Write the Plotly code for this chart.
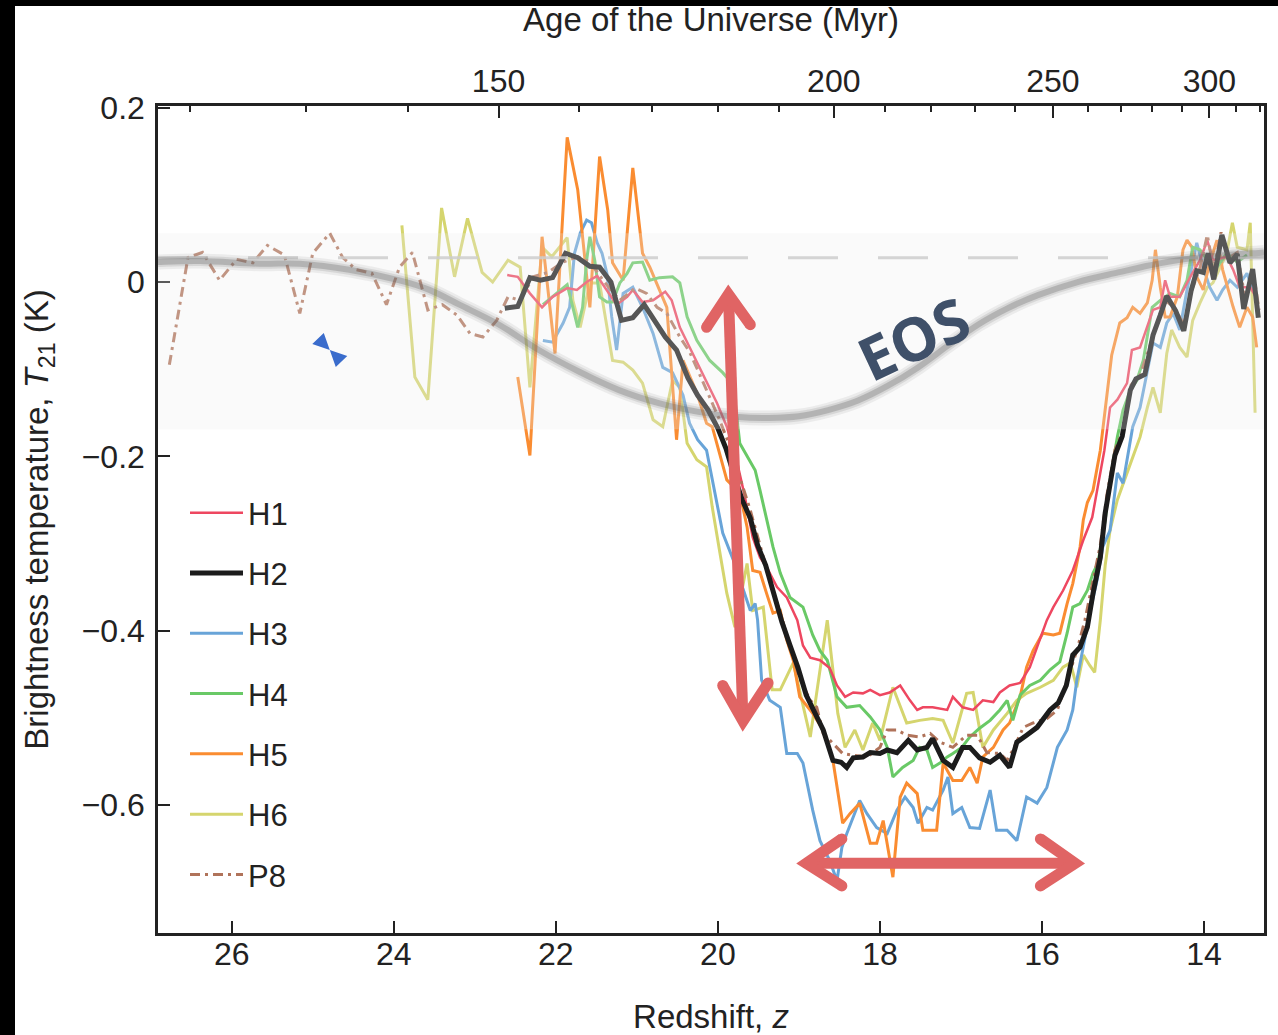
import plotly.graph_objects as go

# ---------------------------------------------------------------------------
# Brightness-temperature histories (redshift z, T21 in K) for each run
# ---------------------------------------------------------------------------
h1_points = [
    (22.60, 0.008), (22.47, 0.006), (22.32, -0.013), (22.17, -0.029), (22.04, -0.017),
    (21.86, -0.007), (21.74, -0.009), (21.62, 0.000), (21.49, 0.007), (21.37, -0.009),
    (21.25, -0.026), (21.12, -0.017), (21.05, -0.009), (20.93, -0.023), (20.80, -0.021),
    (20.65, -0.011), (20.57, -0.021), (20.47, -0.052), (20.31, -0.082), (20.14, -0.113),
    (20.01, -0.139), (19.89, -0.166), (19.77, -0.204), (19.67, -0.245), (19.57, -0.293),
    (19.48, -0.316), (19.40, -0.327), (19.27, -0.350), (19.15, -0.362), (19.02, -0.388),
    (18.95, -0.417), (18.86, -0.431), (18.74, -0.434), (18.62, -0.443), (18.53, -0.463),
    (18.43, -0.476), (18.33, -0.471), (18.21, -0.472), (18.12, -0.468), (18.00, -0.474),
    (17.88, -0.471), (17.75, -0.463), (17.63, -0.480), (17.54, -0.491), (17.47, -0.488),
    (17.35, -0.488), (17.17, -0.491), (17.10, -0.476), (16.98, -0.488), (16.85, -0.491),
    (16.73, -0.480), (16.60, -0.482), (16.52, -0.471), (16.40, -0.463), (16.27, -0.460),
    (16.15, -0.442), (16.02, -0.408), (15.94, -0.388), (15.86, -0.373), (15.74, -0.354),
    (15.62, -0.331), (15.49, -0.296), (15.38, -0.270), (15.31, -0.235), (15.23, -0.193),
    (15.16, -0.144), (15.07, -0.135), (14.95, -0.116), (14.89, -0.078), (14.79, -0.075),
    (14.70, -0.052), (14.63, -0.032), (14.54, -0.029), (14.48, 0.002), (14.42, -0.017),
    (14.30, -0.017), (14.17, 0.006), (14.05, 0.025), (13.96, 0.048), (13.89, 0.025),
    (13.72, 0.029), (13.64, 0.014), (13.56, -0.006), (13.43, -0.006), (13.36, -0.017),
]

h2_points = [
    (22.63, -0.030), (22.47, -0.028), (22.32, 0.005), (22.19, 0.002), (22.04, 0.005),
    (21.88, 0.033), (21.73, 0.028), (21.58, 0.018), (21.46, 0.017), (21.32, 0.000),
    (21.19, -0.044), (21.05, -0.041), (20.91, -0.026), (20.79, -0.044), (20.65, -0.063),
    (20.51, -0.078), (20.37, -0.110), (20.25, -0.130), (20.12, -0.147), (20.00, -0.168),
    (19.90, -0.191), (19.80, -0.222), (19.70, -0.250), (19.60, -0.271), (19.51, -0.302),
    (19.41, -0.325), (19.31, -0.359), (19.21, -0.390), (19.11, -0.417), (19.01, -0.443),
    (18.91, -0.474), (18.81, -0.494), (18.70, -0.514), (18.58, -0.549), (18.48, -0.551),
    (18.41, -0.557), (18.33, -0.546), (18.21, -0.545), (18.12, -0.540), (18.00, -0.541),
    (17.91, -0.537), (17.79, -0.540), (17.65, -0.526), (17.54, -0.537), (17.42, -0.534),
    (17.35, -0.524), (17.22, -0.549), (17.10, -0.557), (16.98, -0.534), (16.89, -0.534),
    (16.77, -0.546), (16.64, -0.551), (16.52, -0.543), (16.40, -0.557), (16.31, -0.528),
    (16.19, -0.520), (16.06, -0.511), (15.90, -0.491), (15.80, -0.483), (15.70, -0.463),
    (15.62, -0.428), (15.53, -0.419), (15.44, -0.396), (15.37, -0.357), (15.28, -0.316),
    (15.22, -0.265), (15.17, -0.237), (15.10, -0.199), (15.01, -0.177), (14.91, -0.124),
    (14.84, -0.111), (14.73, -0.106), (14.68, -0.084), (14.63, -0.061), (14.54, -0.038),
    (14.46, -0.016), (14.35, -0.033), (14.25, -0.056), (14.16, -0.010), (14.09, 0.013),
    (14.01, 0.011), (13.95, 0.033), (13.88, 0.003), (13.78, 0.054), (13.68, 0.022),
    (13.59, 0.032), (13.51, -0.031), (13.40, 0.015), (13.33, -0.041),
]

h3_points = [
    (22.16, -0.067), (22.04, -0.069), (21.91, -0.047), (21.83, -0.029), (21.77, 0.033),
    (21.70, 0.056), (21.62, 0.071), (21.56, 0.068), (21.49, 0.045), (21.43, 0.033),
    (21.37, 0.010), (21.31, -0.040), (21.25, -0.078), (21.17, -0.013), (21.05, -0.006),
    (20.93, -0.029), (20.80, -0.059), (20.68, -0.098), (20.56, -0.104), (20.43, -0.130),
    (20.35, -0.162), (20.25, -0.181), (20.14, -0.193), (20.07, -0.227), (20.01, -0.258),
    (19.94, -0.288), (19.81, -0.319), (19.73, -0.342), (19.65, -0.365), (19.60, -0.377),
    (19.54, -0.369), (19.51, -0.388), (19.46, -0.457), (19.36, -0.480), (19.23, -0.488),
    (19.15, -0.541), (19.02, -0.541), (18.95, -0.552), (18.83, -0.606), (18.74, -0.641),
    (18.62, -0.664), (18.53, -0.687), (18.47, -0.649), (18.41, -0.633), (18.25, -0.595),
    (18.16, -0.610), (18.04, -0.626), (17.91, -0.633), (17.79, -0.606), (17.69, -0.591),
    (17.59, -0.603), (17.53, -0.621), (17.42, -0.603), (17.35, -0.606), (17.22, -0.583),
    (17.16, -0.568), (17.10, -0.610), (16.99, -0.603), (16.89, -0.626), (16.77, -0.627),
    (16.64, -0.583), (16.56, -0.629), (16.43, -0.629), (16.31, -0.641), (16.19, -0.591),
    (16.06, -0.598), (15.94, -0.580), (15.81, -0.534), (15.69, -0.514), (15.62, -0.491),
    (15.57, -0.457), (15.49, -0.419), (15.41, -0.380), (15.32, -0.342), (15.25, -0.304),
    (15.16, -0.285), (15.07, -0.219), (15.00, -0.231), (14.94, -0.196), (14.88, -0.166),
    (14.79, -0.144), (14.70, -0.104), (14.63, -0.070), (14.54, -0.075), (14.46, -0.047),
    (14.38, -0.036), (14.30, -0.055), (14.21, -0.009), (14.09, 0.045), (14.01, 0.017),
    (13.93, -0.006), (13.84, -0.021), (13.77, -0.009), (13.68, 0.002), (13.59, -0.006),
    (13.47, 0.010), (13.40, -0.009),
]

h4_points = [
    (22.16, -0.026), (22.04, -0.017), (21.86, -0.003), (21.79, -0.029), (21.73, -0.052),
    (21.67, -0.029), (21.62, 0.025), (21.58, 0.052), (21.52, 0.025), (21.46, -0.017),
    (21.37, -0.023), (21.30, -0.023), (21.21, -0.001), (21.12, 0.010), (21.05, 0.022),
    (20.93, 0.023), (20.84, 0.002), (20.72, 0.005), (20.56, 0.006), (20.47, -0.001),
    (20.38, -0.040), (20.26, -0.067), (20.10, -0.090), (19.94, -0.104), (19.81, -0.118),
    (19.73, -0.185), (19.63, -0.202), (19.54, -0.216), (19.48, -0.239), (19.40, -0.273),
    (19.32, -0.304), (19.23, -0.334), (19.11, -0.362), (18.95, -0.373), (18.83, -0.405),
    (18.74, -0.423), (18.65, -0.434), (18.53, -0.476), (18.41, -0.488), (18.25, -0.486),
    (18.12, -0.499), (18.00, -0.514), (17.91, -0.534), (17.84, -0.568), (17.72, -0.557),
    (17.59, -0.549), (17.51, -0.534), (17.42, -0.537), (17.35, -0.557), (17.26, -0.552),
    (17.17, -0.545), (17.10, -0.541), (16.99, -0.534), (16.89, -0.522), (16.77, -0.512),
    (16.64, -0.503), (16.52, -0.491), (16.43, -0.480), (16.36, -0.503), (16.27, -0.474),
    (16.15, -0.463), (16.02, -0.457), (15.90, -0.445), (15.78, -0.436), (15.69, -0.403),
    (15.62, -0.373), (15.53, -0.369), (15.44, -0.354), (15.37, -0.334), (15.31, -0.323),
    (15.22, -0.273), (15.16, -0.227), (15.07, -0.178), (15.00, -0.147), (14.91, -0.124),
    (14.83, -0.113), (14.75, -0.090), (14.64, -0.029), (14.54, -0.021), (14.42, -0.013),
    (14.30, -0.017), (14.21, 0.002), (14.14, 0.040), (14.05, 0.037), (13.93, 0.022),
    (13.84, 0.017), (13.72, 0.033), (13.59, 0.023), (13.47, 0.031),
]

h5_points = [
    (22.47, -0.109), (22.32, -0.199), (22.17, 0.052), (22.05, -0.044), (22.01, -0.082),
    (21.93, 0.052), (21.86, 0.166), (21.73, 0.106), (21.58, -0.029), (21.46, 0.144),
    (21.36, 0.083), (21.30, 0.022), (21.17, 0.002), (21.05, 0.131), (20.93, 0.033),
    (20.84, 0.017), (20.63, -0.029), (20.51, -0.181), (20.43, -0.090), (20.26, -0.127),
    (20.14, -0.162), (20.07, -0.166), (19.98, -0.196), (19.89, -0.227), (19.73, -0.242),
    (19.64, -0.281), (19.57, -0.331), (19.48, -0.333), (19.40, -0.357), (19.32, -0.380),
    (19.23, -0.377), (19.15, -0.411), (19.07, -0.434), (18.99, -0.476), (18.83, -0.495),
    (18.70, -0.514), (18.58, -0.549), (18.52, -0.587), (18.46, -0.621), (18.37, -0.610),
    (18.25, -0.598), (18.12, -0.644), (18.04, -0.644), (17.96, -0.618), (17.84, -0.683),
    (17.75, -0.591), (17.67, -0.575), (17.54, -0.587), (17.47, -0.629), (17.30, -0.629),
    (17.22, -0.552), (17.10, -0.572), (16.99, -0.572), (16.89, -0.557), (16.80, -0.575),
    (16.73, -0.545), (16.60, -0.534), (16.48, -0.514), (16.40, -0.506), (16.27, -0.476),
    (16.19, -0.442), (16.11, -0.423), (15.99, -0.403), (15.86, -0.405), (15.78, -0.403),
    (15.69, -0.369), (15.62, -0.346), (15.53, -0.304), (15.49, -0.273), (15.44, -0.253),
    (15.37, -0.239), (15.28, -0.193), (15.21, -0.135), (15.14, -0.084), (15.04, -0.047),
    (14.95, -0.041), (14.88, -0.029), (14.79, -0.036), (14.70, -0.024), (14.64, 0.002),
    (14.60, 0.037), (14.54, -0.006), (14.48, -0.040), (14.42, -0.040), (14.33, -0.017),
    (14.26, 0.037), (14.21, 0.048), (14.15, 0.040), (14.09, 0.006), (14.01, -0.009),
    (13.93, 0.022), (13.84, 0.048), (13.77, 0.014), (13.64, -0.029), (13.56, -0.052),
    (13.47, -0.029), (13.40, -0.040), (13.35, -0.075),
]

h6_points = [
    (23.90, 0.065), (23.74, -0.109), (23.58, -0.135), (23.41, 0.085), (23.25, 0.006),
    (23.09, 0.073), (22.91, 0.011), (22.78, 0.000), (22.59, 0.025), (22.44, 0.017),
    (22.32, -0.121), (22.17, 0.040), (22.05, 0.029), (21.86, 0.051), (21.79, -0.021),
    (21.70, -0.052), (21.58, -0.001), (21.46, -0.001), (21.30, -0.090), (21.17, -0.092),
    (21.05, -0.101), (20.93, -0.116), (20.80, -0.158), (20.68, -0.166), (20.56, -0.113),
    (20.47, -0.121), (20.38, -0.185), (20.26, -0.204), (20.14, -0.212), (20.07, -0.258),
    (19.98, -0.308), (19.89, -0.357), (19.79, -0.396), (19.64, -0.323), (19.57, -0.377),
    (19.44, -0.373), (19.33, -0.468), (19.23, -0.468), (19.07, -0.437), (18.86, -0.522),
    (18.65, -0.388), (18.52, -0.495), (18.43, -0.534), (18.31, -0.514), (18.21, -0.537),
    (18.09, -0.506), (18.00, -0.526), (17.84, -0.465), (17.67, -0.506), (17.51, -0.503),
    (17.35, -0.501), (17.22, -0.503), (17.10, -0.529), (16.93, -0.472), (16.85, -0.471),
    (16.73, -0.534), (16.60, -0.514), (16.43, -0.495), (16.31, -0.480), (16.19, -0.472),
    (16.02, -0.465), (15.86, -0.457), (15.74, -0.442), (15.65, -0.437), (15.57, -0.465),
    (15.49, -0.428), (15.41, -0.440), (15.35, -0.448), (15.28, -0.388), (15.22, -0.325),
    (15.16, -0.285), (15.07, -0.250), (14.95, -0.219), (14.79, -0.178), (14.70, -0.144),
    (14.63, -0.121), (14.54, -0.150), (14.46, -0.082), (14.40, -0.055), (14.30, -0.075),
    (14.21, -0.086), (14.14, -0.044), (14.05, -0.024), (13.96, -0.006), (13.89, -0.001),
    (13.80, 0.017), (13.72, 0.033), (13.65, 0.068), (13.59, 0.040), (13.47, 0.037),
    (13.43, 0.068), (13.40, -0.044), (13.37, -0.150),
]

p8_points = [
    (26.77, -0.095), (26.54, 0.028), (26.36, 0.034), (26.15, 0.002), (25.94, 0.026),
    (25.74, 0.022), (25.56, 0.042), (25.35, 0.031), (25.16, -0.036), (25.00, 0.033),
    (24.79, 0.056), (24.63, 0.028), (24.46, 0.014), (24.27, 0.010), (24.09, -0.026),
    (23.93, 0.017), (23.77, 0.034), (23.58, -0.032), (23.40, -0.026), (23.22, -0.038),
    (23.06, -0.059), (22.90, -0.063), (22.73, -0.044), (22.59, -0.017), (22.44, -0.021),
    (22.28, 0.006), (22.10, 0.011), (21.91, 0.023), (21.73, 0.029), (21.58, 0.023),
    (21.40, 0.000), (21.21, -0.021), (21.02, -0.007), (20.88, -0.013), (20.75, -0.029),
    (20.63, -0.036), (20.47, -0.063), (20.35, -0.080), (20.22, -0.107), (20.10, -0.132),
    (19.98, -0.158), (19.85, -0.189), (19.73, -0.225), (19.60, -0.262), (19.48, -0.302),
    (19.36, -0.342), (19.23, -0.380), (19.11, -0.417), (18.99, -0.455), (18.86, -0.480),
    (18.78, -0.488), (18.70, -0.518), (18.58, -0.529), (18.46, -0.541), (18.33, -0.543),
    (18.16, -0.545), (18.00, -0.534), (17.91, -0.514), (17.79, -0.514), (17.67, -0.520),
    (17.51, -0.522), (17.38, -0.518), (17.26, -0.528), (17.10, -0.534), (16.93, -0.520),
    (16.80, -0.520), (16.68, -0.540), (16.52, -0.541), (16.43, -0.549), (16.36, -0.537),
    (16.23, -0.511), (16.11, -0.506), (15.94, -0.501), (15.81, -0.491), (15.69, -0.457),
    (15.57, -0.423), (15.47, -0.388), (15.38, -0.348), (15.28, -0.302), (15.20, -0.245),
    (15.10, -0.193), (15.00, -0.170), (14.90, -0.118), (14.79, -0.107), (14.69, -0.080),
    (14.59, -0.053), (14.48, -0.021), (14.36, -0.030), (14.25, -0.049), (14.15, -0.009),
    (14.05, 0.016), (13.96, 0.054), (13.88, 0.014), (13.79, 0.057), (13.69, 0.028),
    (13.59, 0.034), (13.49, -0.021), (13.40, 0.016), (13.32, -0.032),
]

# Smooth EOS absorption profile drawn over the runs
eos_points = [
    (26.91, 0.023), (26.39, 0.024), (25.66, 0.021), (25.16, 0.021), (24.55, 0.014),
    (23.93, 0.002), (23.56, -0.009), (23.19, -0.026), (22.70, -0.049), (22.21, -0.078),
    (21.71, -0.103), (21.22, -0.124), (20.73, -0.139), (20.24, -0.149), (19.74, -0.155),
    (19.37, -0.156), (19.00, -0.154), (18.64, -0.147), (18.27, -0.136), (17.90, -0.119),
    (17.53, -0.098), (17.16, -0.073), (16.79, -0.049), (16.42, -0.030), (16.05, -0.015),
    (15.56, 0.000), (15.06, 0.011), (14.57, 0.021), (14.08, 0.028), (13.26, 0.034),
]

z_tick_values = [26, 24, 22, 20, 18, 16, 14]
t21_tick_values = [0.2, 0.0, -0.2, -0.4, -0.6]
t21_tick_labels = ["0.2", "0", "\u22120.2", "\u22120.4", "\u22120.6"]
age_major_myr = [150, 200, 250, 300]
age_minor_myr = [120, 130, 140, 160, 170, 180, 190, 210, 220, 230, 240,
                 260, 270, 280, 290, 310, 320]

# Band covered by the EOS overlay and its reference level (K)
eos_band = (-0.169, 0.056)
eos_reference_level = 0.028
bowtie_point = (24.79, -0.078)

# ---------------------------------------------------------------------------
# Figure geometry and styling
# ---------------------------------------------------------------------------
W, H = 1278, 1035
ML, MR, MT, MB = 158, 14, 106, 102
Z_RANGE = [26.91, 13.26]
T_RANGE = [-0.747, 0.202]
INK = "#222222"
FONT = "Liberation Sans, Arial, Helvetica, sans-serif"
ARROW = "#e06464"


def z_at_age(age_myr, h0=67.74, omega_m=0.3089):
    """Redshift reached at a given cosmic age (matter-dominated era)."""
    hubble_time_myr = 977.8e3 / h0
    scale = 2.0 / 3.0 * hubble_time_myr / omega_m ** 0.5
    return (scale / age_myr) ** (2.0 / 3.0) - 1.0


def smooth_path(points):
    """Catmull-Rom curve through the points as an SVG path in data units."""
    n = len(points)
    d = "M{:.4f},{:.4f}".format(*points[0])
    for i in range(n - 1):
        p0 = points[i - 1] if i > 0 else points[i]
        p1 = points[i]
        p2 = points[i + 1]
        p3 = points[i + 2] if i + 2 < n else points[i + 1]
        c1 = (p1[0] + (p2[0] - p0[0]) / 6, p1[1] + (p2[1] - p0[1]) / 6)
        c2 = (p2[0] - (p3[0] - p1[0]) / 6, p2[1] - (p3[1] - p1[1]) / 6)
        d += " C{:.4f},{:.4f} {:.4f},{:.4f} {:.4f},{:.4f}".format(*c1, *c2, *p2)
    return d


series_style = [
    # name, points, colour, width, dash, legend rank
    ("H6", h6_points, "#d5d56e", 3, "solid", 6),
    ("H3", h3_points, "#68a4d8", 3, "solid", 3),
    ("H5", h5_points, "#fa8c31", 3, "solid", 5),
    ("H4", h4_points, "#69c966", 3, "solid", 4),
    ("H1", h1_points, "#ee4760", 2.5, "solid", 1),
    ("P8", p8_points, "#b0735a", 3, "10px,5px,3px,5px", 7),
    ("H2", h2_points, "#1c1c1c", 5, "solid", 2),
]

fig = go.Figure()
for name, pts, colour, width, dash, rank in series_style:
    fig.add_trace(go.Scatter(
        x=[p[0] for p in pts], y=[p[1] for p in pts],
        mode="lines", name=name, legendgroup=name, legendrank=rank,
        line=dict(color=colour, width=width, dash=dash),
        hoverinfo="skip",
    ))

# empty trace that registers the age axis along the top edge
fig.add_trace(go.Scatter(x=[], y=[], xaxis="x2", yaxis="y", mode="lines",
                         showlegend=False, hoverinfo="skip"))

shapes = []
# translucent EOS panel over the runs
shapes.append(dict(type="rect", xref="paper", yref="y", x0=0, x1=1,
                   y0=eos_band[0], y1=eos_band[1], layer="above",
                   fillcolor="rgba(237,237,237,0.28)", line=dict(width=0)))
shapes.append(dict(type="line", xref="paper", yref="y", x0=0, x1=1,
                   y0=eos_reference_level, y1=eos_reference_level, layer="above",
                   line=dict(color="rgba(205,205,205,0.85)", width=3, dash="50px,40px")))
# soft grey EOS curve: stacked strokes fake a blurred edge
eos_path = smooth_path(eos_points)
for w, col in [(15, "rgba(110,110,110,0.10)"), (10, "rgba(105,105,105,0.16)"),
               (6, "rgba(100,100,100,0.30)")]:
    shapes.append(dict(type="path", xref="x", yref="y", path=eos_path, layer="above",
                       line=dict(color=col, width=w)))

# bow-tie glyph inside the EOS panel, sized in pixels around its anchor
shapes.append(dict(type="path", xref="x", yref="y", layer="above",
                   xsizemode="pixel", ysizemode="pixel",
                   xanchor=bowtie_point[0], yanchor=bowtie_point[1],
                   path="M0,0 L-6,17 L-17.5,6 Z M0,0 L6,-17 L17.5,-6 Z",
                   fillcolor="rgb(58,108,204)", line=dict(width=0)))


def add_arrow(tip, arm_a, arm_b):
    shapes.append(dict(type="path", xref="x", yref="y", layer="above",
                       path="M{:.4f},{:.4f} L{:.4f},{:.4f} L{:.4f},{:.4f}".format(
                           *arm_a, *tip, *arm_b),
                       line=dict(color=ARROW, width=11)))
    for end in (arm_a, arm_b):
        shapes.append(dict(type="circle", xref="x", yref="y", layer="above",
                           xsizemode="pixel", ysizemode="pixel",
                           xanchor=end[0], yanchor=end[1],
                           x0=-5.5, x1=5.5, y0=-5.5, y1=5.5,
                           fillcolor=ARROW, line=dict(width=0)))


# vertical double arrow (depth of the trough)
v_top, v_bot = (19.87, -0.014), (19.69, -0.504)
shapes.append(dict(type="line", xref="x", yref="y", layer="above",
                   x0=v_top[0], y0=v_top[1], x1=v_bot[0], y1=v_bot[1],
                   line=dict(color=ARROW, width=11)))
add_arrow(v_top, (20.14, -0.052), (19.60, -0.049))
add_arrow(v_bot, (19.94, -0.463), (19.38, -0.460))

# horizontal double arrow (width of the trough)
h_left, h_right = (18.91, -0.667), (15.59, -0.667)
shapes.append(dict(type="line", xref="x", yref="y", layer="above",
                   x0=h_left[0], y0=h_left[1], x1=h_right[0], y1=h_right[1],
                   line=dict(color=ARROW, width=11)))
add_arrow(h_left, (18.47, -0.639), (18.47, -0.693))
add_arrow(h_right, (16.02, -0.639), (16.02, -0.693))

# dark frame strips along the left and top edges of the page
pw, ph = W - ML - MR, H - MT - MB
shapes.append(dict(type="rect", xref="paper", yref="paper", layer="above",
                   x0=-ML / pw, x1=(15 - ML) / pw, y0=-MB / ph, y1=(H - MB) / ph,
                   fillcolor="black", line=dict(width=0)))
shapes.append(dict(type="rect", xref="paper", yref="paper", layer="above",
                   x0=-ML / pw, x1=(W - ML) / pw, y0=(H - MB - 6) / ph, y1=(H - MB) / ph,
                   fillcolor="black", line=dict(width=0)))

axis_common = dict(showgrid=False, zeroline=False, showline=True, linecolor=INK,
                   linewidth=2.5, ticks="inside", tickcolor=INK, tickwidth=2,
                   automargin=False,
                   tickfont=dict(family=FONT, size=32, color=INK))

fig.update_layout(
    width=W, height=H, autosize=False,
    margin=dict(l=ML, r=MR, t=MT, b=MB, pad=0),
    paper_bgcolor="white", plot_bgcolor="white",
    font=dict(family=FONT, size=32, color=INK),
    shapes=shapes,
    xaxis=dict(range=Z_RANGE, tickmode="array", tickvals=z_tick_values,
               ticklen=12, ticklabelstandoff=-9,
               title=dict(text="Redshift, <i>z</i>", font=dict(size=33), standoff=38),
               **axis_common),
    xaxis2=dict(range=Z_RANGE, overlaying="x", side="top", anchor="y",
                tickmode="array", tickvals=[z_at_age(a) for a in age_major_myr],
                ticktext=[str(a) for a in age_major_myr], ticklen=12, ticklabelstandoff=-2,
                minor=dict(tickmode="array", tickvals=[z_at_age(a) for a in age_minor_myr],
                           ticks="inside", ticklen=6, tickwidth=2, tickcolor=INK),
                title=dict(text="Age of the Universe (Myr)", font=dict(size=33), standoff=22),
                **axis_common),
    yaxis=dict(range=T_RANGE, tickmode="array", tickvals=t21_tick_values,
               ticktext=t21_tick_labels, ticklen=12, mirror=True, ticklabelstandoff=4,
               title=dict(text="Brightness temperature, <i>T</i><sub>21</sub> (K)",
                          font=dict(size=33), standoff=24),
               **axis_common),
    legend=dict(x=(185 - ML) / pw, y=(H - MB - 486) / ph, xanchor="left", yanchor="top",
                bgcolor="rgba(0,0,0,0)", font=dict(family=FONT, size=31, color=INK),
                tracegroupgap=17, itemwidth=53),
    annotations=[dict(text="<b>EOS</b>", x=17.59, y=-0.064, xref="x", yref="y",
                      showarrow=False, textangle=-25,
                      font=dict(family="Open Sans, sans-serif", size=60, color="#3f5069"))],
)

fig.write_html("out.html")
